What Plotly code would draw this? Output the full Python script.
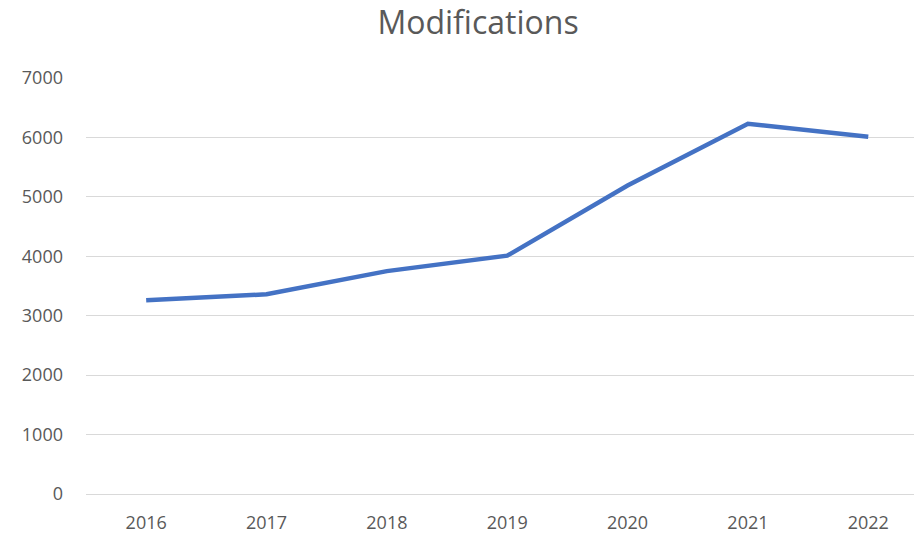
import plotly.graph_objects as go

years = ["2016", "2017", "2018", "2019", "2020", "2021", "2022"]
modifications = [3260, 3360, 3750, 4010, 5190, 6230, 6010]
y_ticks = [0, 1000, 2000, 3000, 4000, 5000, 6000, 7000]

W, H = 914, 536

fig = go.Figure()
fig.add_trace(go.Scatter(
    x=years, y=modifications, mode="lines",
    line=dict(color="#4472C4", width=4.5),
    hoverinfo="skip", showlegend=False,
))

fig.update_layout(
    width=W, height=H,
    margin=dict(l=86, r=0, t=78, b=42),
    paper_bgcolor="white", plot_bgcolor="white",
    font=dict(family="Open Sans", color="#595959", size=18),
    title=dict(text="Modifications", x=478/W, xanchor="center",
               y=1 - 23/H, yanchor="middle",
               font=dict(size=32, color="#595959", family="Open Sans")),
)
fig.update_xaxes(
    type="category", range=[-0.5, 6.38],
    showgrid=False, showline=False, zeroline=False,
    ticks="", ticklabelstandoff=16,
)
fig.update_yaxes(
    range=[0, 7000], tickvals=y_ticks,
    showgrid=True, gridcolor="#D9D9D9", gridwidth=1.3,
    zeroline=True, zerolinecolor="#D9D9D9", zerolinewidth=1.3,
    showline=False, ticks="", ticklabelstandoff=22,
)
fig.write_html(
    "out.html",
    config={"displayModeBar": False},
    post_script="document.body.style.margin='0';",
)
